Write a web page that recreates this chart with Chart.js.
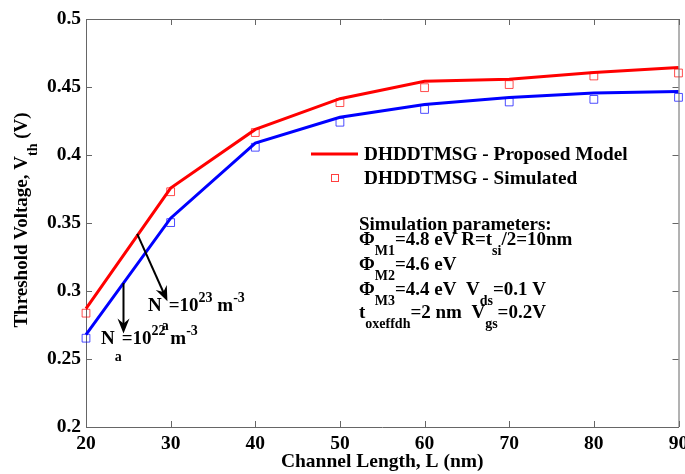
<!DOCTYPE html>
<html>
<head>
<meta charset="utf-8">
<script src="https://cdn.jsdelivr.net/npm/chart.js@4.4.1/dist/chart.umd.min.js"></script>
<style>
  html, body { margin: 0; padding: 0; background: #fff; }
  #wrap { width: 685px; height: 474px; }
</style>
</head>
<body>
<div id="wrap"><canvas id="vthChart" width="685" height="474"></canvas></div>
<script>
// channel length (nm)
var channelLength = [20, 30, 40, 50, 60, 70, 80, 90];
// Na = 1e23 m^-3 (red)
var modelHigh = [0.287, 0.3757, 0.4188, 0.4414, 0.4542, 0.4557, 0.4606, 0.4643];
var simHigh   = [0.2837, 0.373, 0.4165, 0.4385, 0.4495, 0.4518, 0.4581, 0.4603];
// Na = 1e22 m^-3 (blue)
var modelLow  = [0.2679, 0.3535, 0.4087, 0.4278, 0.4372, 0.4422, 0.4456, 0.4466];
var simLow    = [0.2653, 0.3503, 0.4057, 0.4241, 0.4335, 0.439, 0.4409, 0.4424];

var xTicks = [20, 30, 40, 50, 60, 70, 80, 90];
var yTicks = [0.2, 0.25, 0.3, 0.35, 0.4, 0.45, 0.5];
var yTickLabels = ['0.2', '0.25', '0.3', '0.35', '0.4', '0.45', '0.5'];

var FONT = '"Liberation Serif", "Times New Roman", serif';

function pts(ys) {
    return channelLength.map(function (x, i) { return {x: x, y: ys[i]}; });
}

// draws text made of normal / subscript / superscript pieces, returns width
function richText(ctx, x, y, parts, size, measureOnly) {
    var cx = x;
    parts.forEach(function (p) {
        var kind = p[1] || 'n';
        var fs = kind == 'n' ? size : Math.round(size * 0.74);
        var dy = 0;
        if (kind == 'b') dy = (p[2] !== undefined) ? p[2] : size * 0.62;
        if (kind == 'p') dy = -size * 0.42;
        ctx.font = 'bold ' + fs + 'px ' + FONT;
        if (!measureOnly) ctx.fillText(p[0], cx, y + dy);
        cx += ctx.measureText(p[0]).width;
    });
    return cx - x;
}

function arrow(ctx, x1, y1, x2, y2) {
    var ang = Math.atan2(y2 - y1, x2 - x1);
    var len = 15, half = 6;
    ctx.strokeStyle = '#000';
    ctx.fillStyle = '#000';
    ctx.lineWidth = 2;
    ctx.beginPath();
    ctx.moveTo(x1, y1);
    ctx.lineTo(x2 - Math.cos(ang) * 6, y2 - Math.sin(ang) * 6);
    ctx.stroke();
    ctx.beginPath();
    ctx.moveTo(x2, y2);
    ctx.lineTo(x2 - Math.cos(ang) * len - Math.sin(ang) * half, y2 - Math.sin(ang) * len + Math.cos(ang) * half);
    ctx.lineTo(x2 - Math.cos(ang) * (len - 5), y2 - Math.sin(ang) * (len - 5));
    ctx.lineTo(x2 - Math.cos(ang) * len + Math.sin(ang) * half, y2 - Math.sin(ang) * len - Math.cos(ang) * half);
    ctx.closePath();
    ctx.fill();
}

var decorPlugin = {
    id: 'decor',
    afterDraw: function (chart) {
        var ctx = chart.ctx;
        var a = chart.chartArea;
        var xs = chart.scales.x, ys = chart.scales.y;
        ctx.save();

        // box + inward ticks on all four sides
        ctx.strokeStyle = '#666';
        ctx.lineWidth = 1;
        ctx.beginPath();
        ctx.moveTo(a.left, a.top + 0.5); ctx.lineTo(a.right + 0.5, a.top + 0.5);
        ctx.lineTo(a.right + 0.5, a.bottom);
        xTicks.forEach(function (v) {
            var px = Math.round(xs.getPixelForValue(v)) + 0.5;
            ctx.moveTo(px, a.bottom); ctx.lineTo(px, a.bottom - 6);
            ctx.moveTo(px, a.top); ctx.lineTo(px, a.top + 6);
        });
        yTicks.forEach(function (v) {
            var py = Math.round(ys.getPixelForValue(v)) + 0.5;
            ctx.moveTo(a.left, py); ctx.lineTo(a.left + 6, py);
            ctx.moveTo(a.right, py); ctx.lineTo(a.right - 6, py);
        });
        ctx.stroke();

        ctx.fillStyle = '#000';
        ctx.textBaseline = 'middle';
        ctx.textAlign = 'left';

        // legend
        ctx.strokeStyle = '#ff0000';
        ctx.lineWidth = 3;
        ctx.beginPath();
        ctx.moveTo(311, 154); ctx.lineTo(358, 154);
        ctx.stroke();
        ctx.strokeStyle = 'rgba(255,0,0,0.75)';
        ctx.lineWidth = 1;
        ctx.strokeRect(331.5, 174.5, 7, 7);
        ctx.fillStyle = '#000';
        ctx.font = 'bold 19.3px ' + FONT;
        ctx.fillText('DHDDTMSG - Proposed Model', 364, 155);
        ctx.fillText('DHDDTMSG - Simulated', 364, 179);

        // simulation parameters
        var px0 = 359, fs = 19;
        richText(ctx, px0, 225, [['Simulation parameters:']], fs);
        richText(ctx, px0, 240, [['\u03A6'], ['M1', 'b', 11], ['=4.8 eV R=t'], ['si', 'b', 11], ['/2=10nm']], fs);
        richText(ctx, px0, 265, [['\u03A6'], ['M2', 'b', 11], ['=4.6 eV']], fs);
        richText(ctx, px0, 290, [['\u03A6'], ['M3', 'b', 11], ['=4.4 eV  V'], ['ds', 'b', 11], ['=0.1 V']], fs);
        richText(ctx, px0, 313, [['t'], ['oxeffdh', 'b', 11], ['=2 nm  V'], ['gs', 'b', 11], ['=0.2V']], fs);

        // doping annotations
        arrow(ctx, xs.getPixelForValue(26.05), ys.getPixelForValue(0.342),
                   xs.getPixelForValue(29.62), ys.getPixelForValue(0.2925));
        arrow(ctx, xs.getPixelForValue(24.43), ys.getPixelForValue(0.3058),
                   xs.getPixelForValue(24.43), ys.getPixelForValue(0.2688));
        richText(ctx, 148, 306, [['N'], ['a', 'b', 20], ['=10'], ['23', 'p'], [' m'], ['-3', 'p']], fs);
        richText(ctx, 101, 339, [['N'], ['a', 'b', 18], ['=10'], ['22', 'p'], [' m'], ['-3', 'p']], fs);

        // y axis title (rotated, with subscript)
        var yParts = [['Threshold Voltage, V'], ['th', 'b', 11], [' (V)']];
        ctx.translate(22, 220);
        ctx.rotate(-Math.PI / 2);
        var w = richText(ctx, 0, 0, yParts, fs, true);
        richText(ctx, -w / 2, 0, yParts, fs);
        ctx.restore();
    }
};

var ctx = document.getElementById('vthChart');
var vthChart = new Chart(ctx, {
    type: 'line',
    data: {
        datasets: [{
            label: 'DHDDTMSG - Proposed Model',
            data: pts(modelHigh),
            borderColor: '#ff0000',
            borderWidth: 3,
            pointRadius: 0,
            tension: 0
        }, {
            label: 'DHDDTMSG - Simulated',
            data: pts(simHigh),
            showLine: false,
            pointStyle: 'rect',
            pointRadius: 5.5,
            pointBorderWidth: 1,
            pointBorderColor: 'rgba(255,0,0,0.7)',
            pointBackgroundColor: 'rgba(0,0,0,0)'
        }, {
            label: 'Model Na=1e22',
            data: pts(modelLow),
            borderColor: '#0000ff',
            borderWidth: 3,
            pointRadius: 0,
            tension: 0
        }, {
            label: 'Simulated Na=1e22',
            data: pts(simLow),
            showLine: false,
            pointStyle: 'rect',
            pointRadius: 5.5,
            pointBorderWidth: 1,
            pointBorderColor: 'rgba(0,0,255,0.7)',
            pointBackgroundColor: 'rgba(0,0,0,0)'
        }]
    },
    options: {
        responsive: false,
        animation: false,
        clip: false,
        layout: { padding: { top: 19, right: 6, left: 0, bottom: 0 } },
        plugins: {
            legend: { display: false },
            tooltip: { enabled: false }
        },
        scales: {
            x: {
                type: 'linear',
                min: 20,
                max: 90,
                afterBuildTicks: function (scale) {
                    scale.ticks = xTicks.map(function (v) { return {value: v}; });
                },
                afterFit: function (scale) {
                    scale.height = 47;
                    scale.paddingLeft = 0;
                    scale.paddingRight = 0;
                },
                grid: { display: false, drawTicks: false },
                border: { display: true, color: '#666', width: 1 },
                ticks: {
                    padding: 5,
                    color: '#000',
                    maxRotation: 0,
                    font: { family: FONT, size: 19.5, weight: 'bold' }
                },
                title: {
                    display: true,
                    text: 'Channel Length, L (nm)',
                    color: '#000',
                    padding: 0,
                    font: { family: FONT, size: 19.5, weight: 'bold' }
                }
            },
            y: {
                min: 0.2,
                max: 0.5,
                afterBuildTicks: function (scale) {
                    scale.ticks = yTicks.map(function (v) { return {value: v}; });
                },
                afterFit: function (scale) {
                    scale.width = 86;
                    scale.paddingTop = 0;
                    scale.paddingBottom = 0;
                },
                grid: { display: false, drawTicks: false },
                border: { display: true, color: '#666', width: 1 },
                ticks: {
                    padding: 5,
                    color: '#000',
                    font: { family: FONT, size: 19.5, weight: 'bold' },
                    callback: function (v) {
                        var i = yTicks.indexOf(Number(v.toFixed(2)));
                        return i >= 0 ? yTickLabels[i] : '';
                    }
                }
            }
        }
    },
    plugins: [decorPlugin]
});
</script>
</body>
</html>
